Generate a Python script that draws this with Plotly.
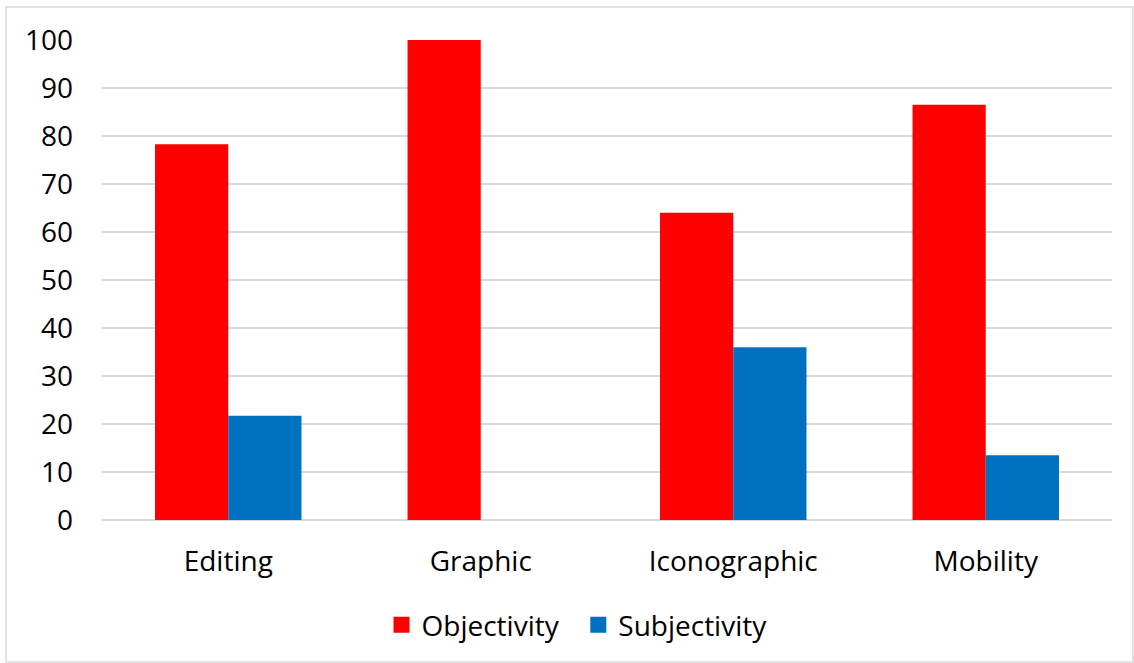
import plotly.graph_objects as go

categories = ["Editing", "Graphic", "Iconographic", "Mobility"]
objectivity = [78.3, 100, 64.0, 86.5]
subjectivity = [21.7, 0, 36.0, 13.5]
y_ticks = [0, 10, 20, 30, 40, 50, 60, 70, 80, 90, 100]
series_names = ["Objectivity", "Subjectivity"]
series_colors = ["#ff0000", "#0070c0"]

FONT = "'Open Sans', sans-serif"
FS = 28

fig = go.Figure()
for name, vals, col in zip(series_names, [objectivity, subjectivity], series_colors):
    fig.add_trace(go.Bar(name=name, x=categories, y=vals, showlegend=False,
                         marker=dict(color=col, line=dict(width=0))))
# legend-only entries with larger square swatches
for i, (name, col) in enumerate(zip(series_names, series_colors)):
    label = name + ("\u00a0\u00a0" if i == 0 else "")
    fig.add_trace(go.Scatter(name=label, x=[None], y=[None], mode="markers",
                             marker=dict(symbol="square", size=16, color=col),
                             showlegend=True, hoverinfo="skip"))

W, H = 1134, 663
L, R, T, B = 102, 22, 40, 143
pw, ph = W - L - R, H - T - B

def px(x):
    return (x - L) / pw

def py(y):
    return (H - B - y) / ph

fig.update_layout(
    width=W, height=H,
    margin=dict(l=L, r=R, t=T, b=B),
    paper_bgcolor="white", plot_bgcolor="white",
    barmode="group", bargap=0.42, bargroupgap=0,
    font=dict(family=FONT, size=FS, color="black"),
    legend=dict(orientation="h", x=px(577), xanchor="center", y=py(625), yanchor="middle",
                font=dict(size=FS, color="black"), itemwidth=30, traceorder="normal",
                tracegroupgap=0),
    xaxis=dict(showgrid=False, showline=False, ticks="", ticklabelstandoff=22,
               tickfont=dict(size=FS)),
    yaxis=dict(range=[0, 100], tickvals=y_ticks, showgrid=True, gridcolor="#d9d9d9",
               gridwidth=1.5, zeroline=True, zerolinecolor="#d9d9d9", zerolinewidth=1.5,
               showline=False, ticks="", ticklabelstandoff=28, tickfont=dict(size=FS)),
    shapes=[dict(type="rect", xref="paper", yref="paper",
                 x0=px(6), x1=px(1133), y0=py(662), y1=py(7),
                 line=dict(color="#d9d9d9", width=1.5), fillcolor="rgba(0,0,0,0)",
                 layer="below")],
)

fig.write_html("out.html")
